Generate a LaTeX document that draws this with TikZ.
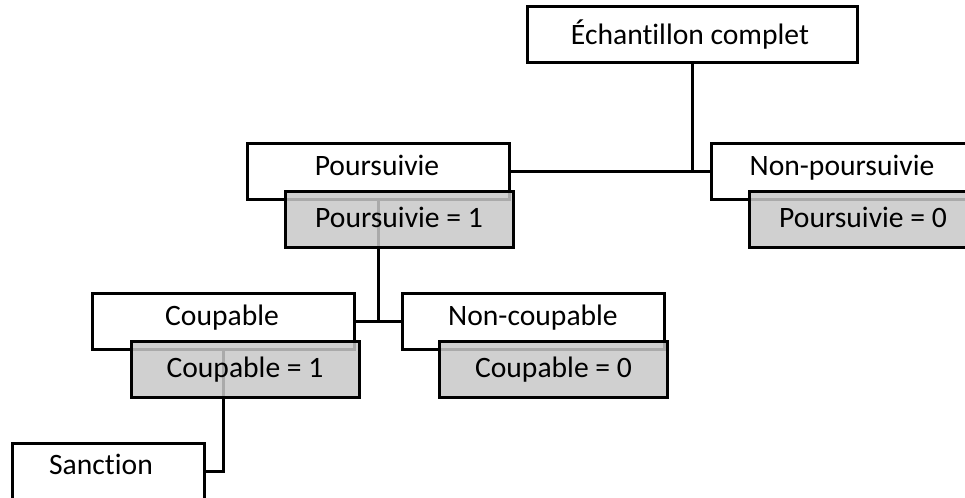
\documentclass[tikz,border=0pt]{standalone}
\usepackage{fontspec}
\setmainfont[Ligatures={NoCommon}]{Carlito}
\begin{document}
\begin{tikzpicture}[x=0.5pt,y=-0.5pt,
  box/.style={draw=black,line width=1.5pt,rectangle,inner sep=0pt,minimum height=28pt},
  wbox/.style={box,fill=white},
  gbox/.style={box,fill={rgb,255:red,200;green,200;blue,200},fill opacity=0.85,draw opacity=1,minimum width=114pt},
  lbl/.style={anchor=base,inner sep=0pt,font=\fontsize{14.8}{17}\selectfont},
  conn/.style={draw=black,line width=1.5pt}]
\useasboundingbox (0,0) rectangle (965,498);
\clip (0,0) rectangle (965,498);
% white boxes
\node[wbox,minimum width=165pt] (top) at (692,34.5) {};
\node[wbox,minimum width=131pt] (pours) at (378,171) {};
\node[wbox,minimum width=131pt] (nonp) at (842,171) {};
\node[wbox,minimum width=131pt] (coup) at (223,321) {};
\node[wbox,minimum width=131pt] (noncoup) at (533,321) {};
\node[wbox,minimum width=96pt] (sanc) at (108,471) {};
% connectors
\draw[conn] (top.south) -- (top.south |- pours.east);
\draw[conn] (pours.east) -- (nonp.west);
\draw[conn] (pours.south) -- (pours.south |- coup.east);
\draw[conn] (coup.east) -- (noncoup.west);
\draw[conn] (coup.south) |- (sanc.east);
% grey boxes
\node[gbox] (pours1) at (399,219) {};
\node[gbox] (nonp0) at (863,219) {};
\node[gbox] (coup1) at (245,369) {};
\node[gbox] (coup0) at (553.5,369) {};
% labels
\node[lbl] (topT) at (690,44) {Échantillon complet};
\node[lbl] (poursT) at (377,175) {Poursuivie};
\node[lbl] (nonpT) at (842,175) {Non-poursuivie};
\node[lbl] (coupT) at (222,325) {Coupable};
\node[lbl] (noncoupT) at (533,325) {Non-coupable};
\node[lbl] (sancT) at (101,474) {Sanction};
\node[lbl] (pours1T) at (399,227) {Poursuivie = 1};
\node[lbl] (nonp0T) at (863,227) {Poursuivie = 0};
\node[lbl] (coup1T) at (245,377) {Coupable = 1};
\node[lbl] (coup0T) at (553.5,377) {Coupable = 0};
\end{tikzpicture}
\end{document}
